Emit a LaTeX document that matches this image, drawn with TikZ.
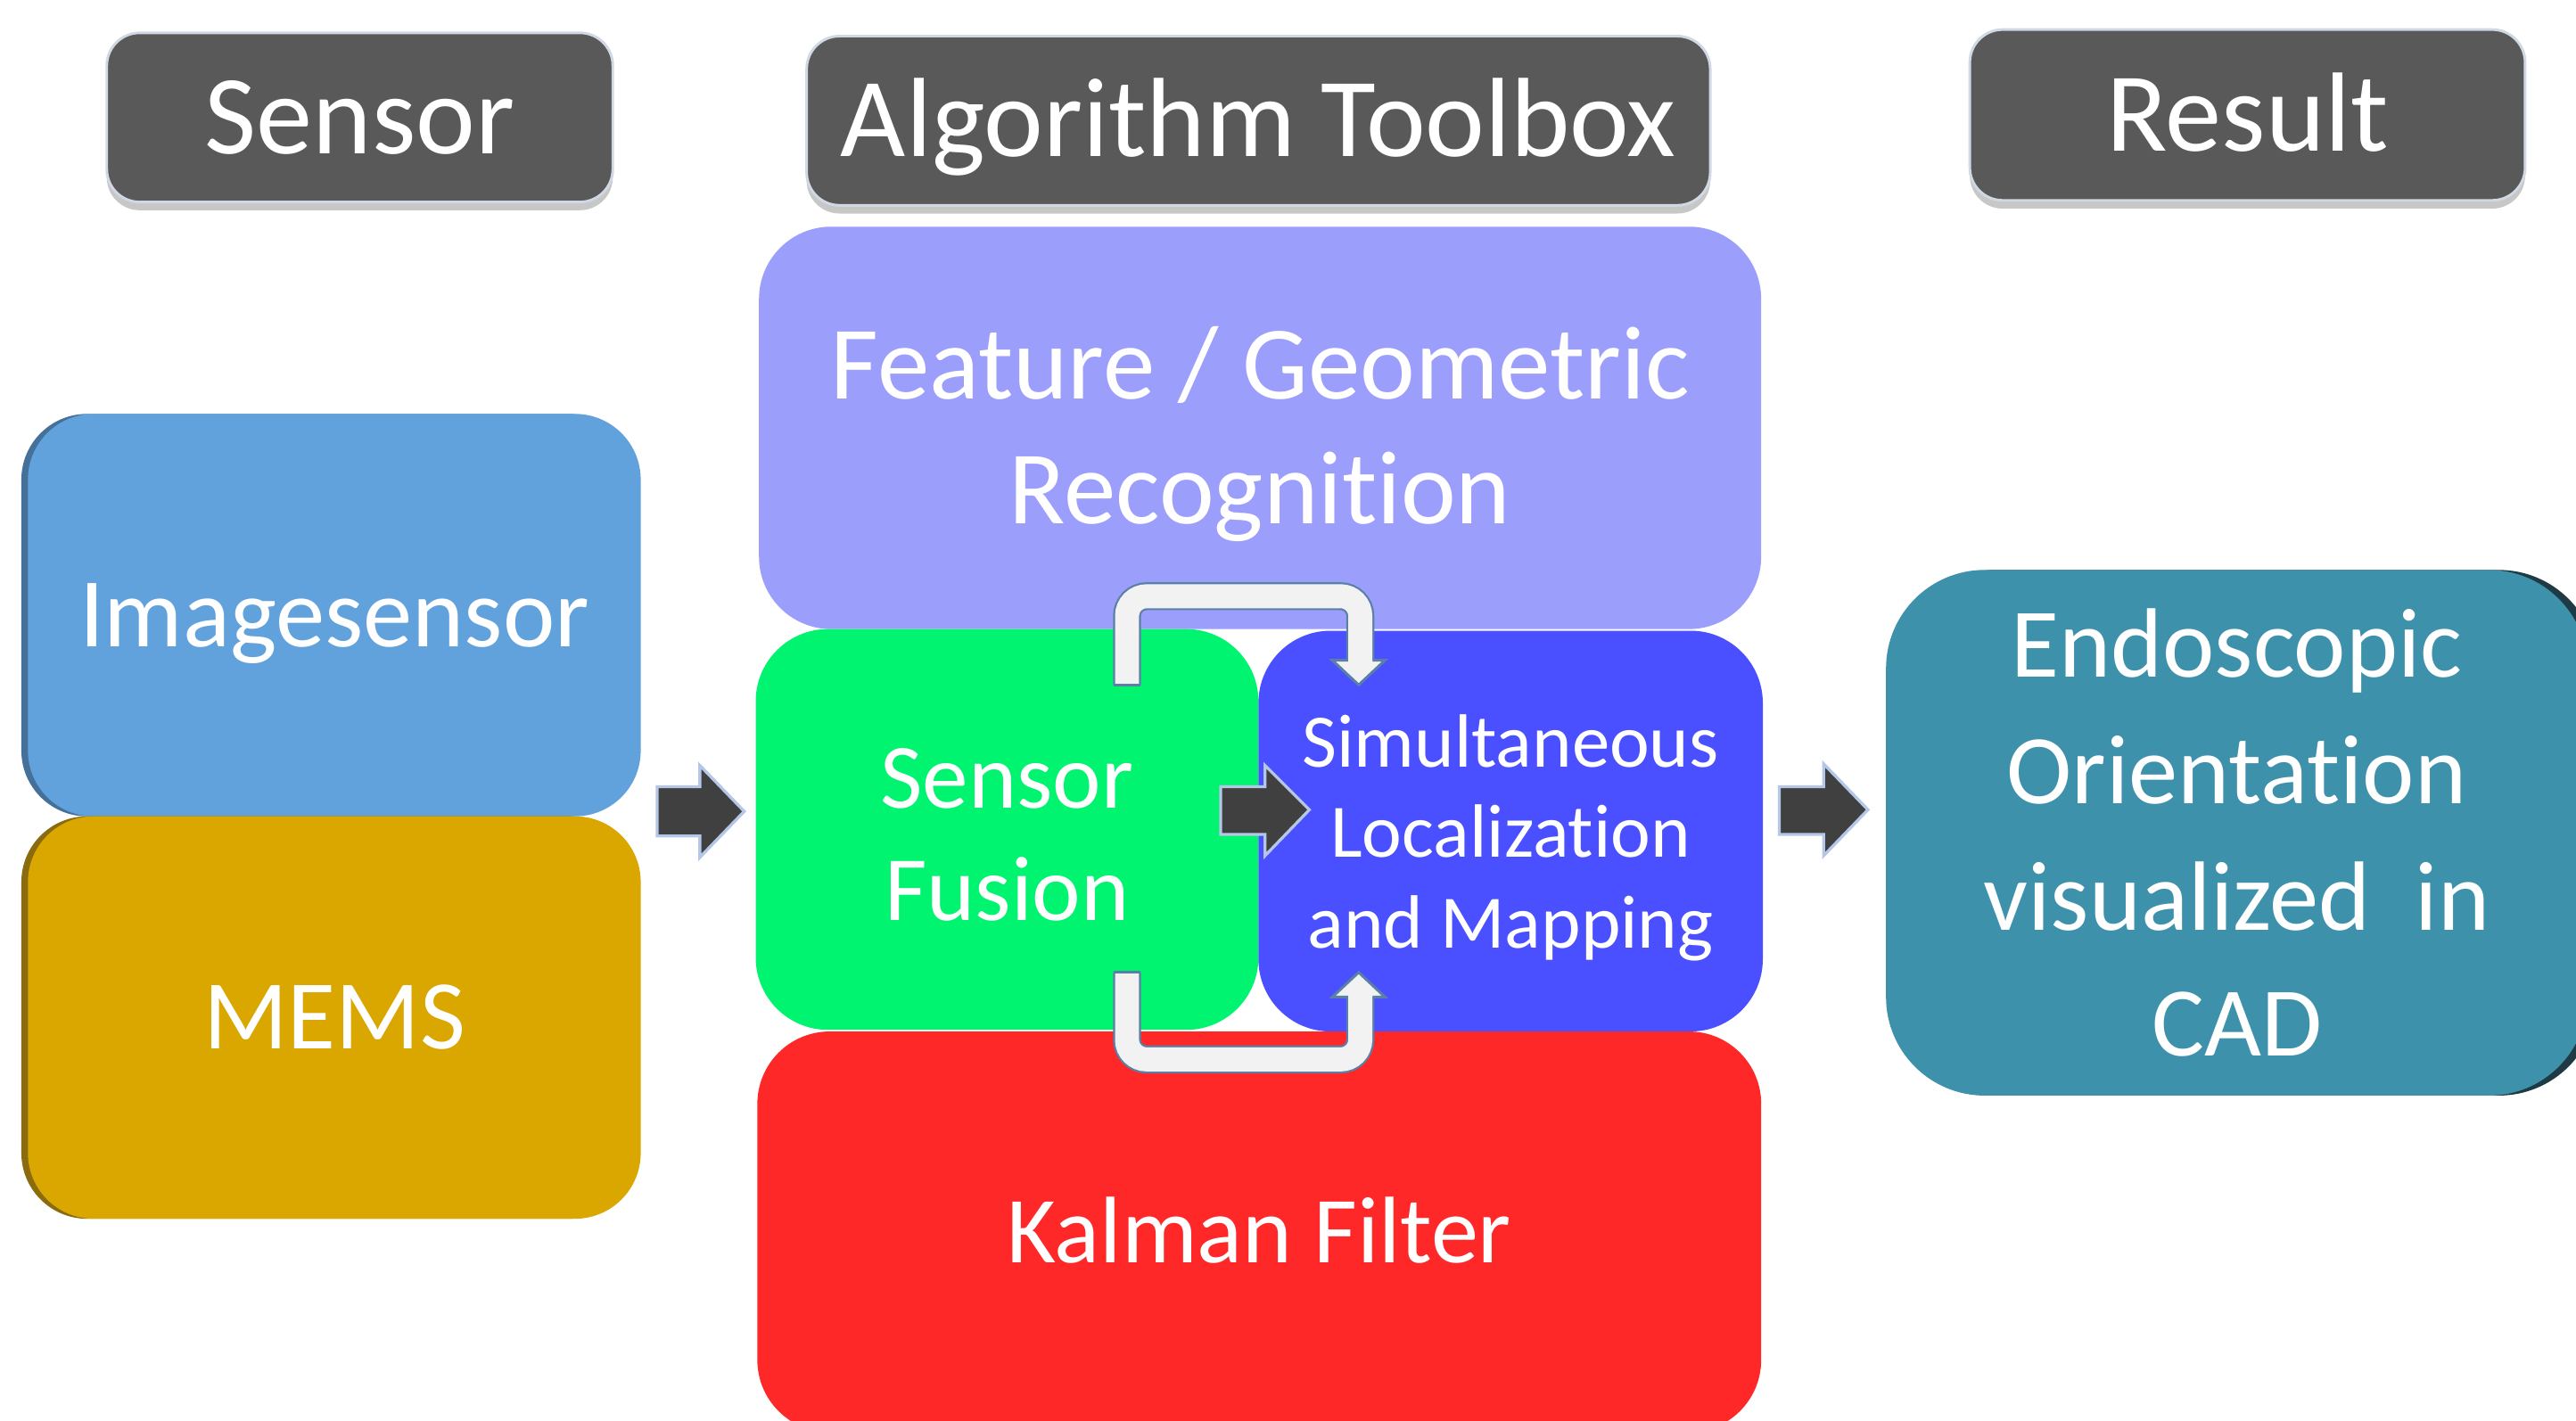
\documentclass[tikz,border=0pt]{standalone}
\usepackage{fontspec}
\setmainfont{Carlito}[Ligatures={NoCommon,NoContextual}]
\usetikzlibrary{shadows}
\definecolor{hdr}{HTML}{595959}
\definecolor{hdrline}{HTML}{D0D8E4}
\definecolor{lav}{HTML}{9B9EFB}
\definecolor{grn}{HTML}{00F470}
\definecolor{blu}{HTML}{4A50FF}
\definecolor{redc}{HTML}{FF2828}
\definecolor{imgc}{HTML}{62A2DC}
\definecolor{imgdark}{HTML}{44709A}
\definecolor{memsc}{HTML}{DAA600}
\definecolor{memsdark}{HTML}{8A6B0E}
\definecolor{endoc}{HTML}{3E91AB}
\definecolor{endodark}{HTML}{1E3A45}
\definecolor{arrowfill}{HTML}{404040}
\definecolor{arrowline}{HTML}{B4C7E7}
\definecolor{loopfill}{HTML}{F2F2F2}
\definecolor{loopline}{HTML}{5B80A8}
\begin{document}
\begin{tikzpicture}[x=0.5pt,y=-0.5pt,
  box/.style={rounded corners=22pt, inner sep=0pt, text=white, align=center},
  txt/.style={inner sep=0pt, text=white, align=center},
  hdrbox/.style={box, fill=hdr, draw=hdrline, line width=0.8pt, rounded corners=10pt,
     drop shadow={shadow xshift=0pt, shadow yshift=-2.5pt, opacity=0.22, fill=black},
     font=\fontsize{34.3}{40}\selectfont, text height=22pt, text depth=0pt},
  blockarrow/.style={fill=arrowfill, draw=arrowline, line width=0.9pt, line join=miter},
  loopout/.style={draw=loopline, line width=8.5pt, rounded corners=6pt},
  loopin/.style={draw=loopfill, line width=7.3pt, rounded corners=6pt},
]
\useasboundingbox (0,0) rectangle (1568,865);
\clip (0,0) rectangle (1568,865);

% algorithm toolbox boxes
\node[box, fill=lav, minimum width=305pt, minimum height=122.5pt] (feat) at (767,260.5) {};
\node[txt, font=\fontsize{31.75}{38}\selectfont] (featT) at ([yshift=-2pt]feat.center) {Feature / Geometric\\Recognition};
\node[box, fill=grn, minimum width=153pt, minimum height=122pt] (fus) at (613,505) {};
\node[txt, font=\fontsize{28}{34}\selectfont] (fusT) at ([yshift=-1.6pt]fus.center) {Sensor\\Fusion};
\node[box, fill=blu, minimum width=153.5pt, minimum height=122pt] (slam) at (919.5,506) {};
\node[txt, font=\fontsize{23}{27.5}\selectfont] (slamT) at ([yshift=-2pt]slam.center) {Simultaneous\\Localization\\and Mapping};
\node[box, fill=redc, minimum width=305.5pt, minimum height=122pt,
      font=\fontsize{28.8}{34}\selectfont, text height=18.6pt, text depth=0pt] (kal) at (766.5,750) {Kalman Filter};

% sensor boxes
\fill[imgdark, rounded corners=20pt] (13,252) rectangle (386,497);
\node[box, fill=imgc, rounded corners=20pt, minimum width=186.5pt, minimum height=122.5pt,
      font=\fontsize{30}{36}\selectfont, text height=19.3pt, text depth=0pt] (img) at (203.5,374.5) {Imagesensor};
\fill[memsdark, rounded corners=20pt] (13,497) rectangle (386,742);
\node[box, fill=memsc, rounded corners=20pt, minimum width=186.5pt, minimum height=122.5pt,
      font=\fontsize{30}{36}\selectfont, text height=19.3pt, text depth=0pt] (mems) at (203.5,619.5) {MEMS};

% result box
\fill[endodark, rounded corners=30pt] (1154,347) rectangle (1581,667);
\node[box, fill=endoc, rounded corners=30pt, minimum width=213.5pt, minimum height=160pt,
      font=\fontsize{30}{38.5}\selectfont] (endo) at (1361.5,507) {Endoscopic\\Orientation\\visualized\ \ in\\CAD};

% block arrows
\draw[blockarrow] (400,479) -- (426,479) -- (426,466) -- (453,494) -- (426,522) -- (426,509) -- (400,509) -- cycle;
\draw[blockarrow] (743,479) -- (770,479) -- (770,466) -- (797,493) -- (770,521) -- (770,508) -- (743,508) -- cycle;
\draw[blockarrow] (1083,479) -- (1110,479) -- (1110,465) -- (1137,493) -- (1110,521) -- (1110,508) -- (1083,508) -- cycle;

% loop arrows
\draw[loopout] (686,417) -- (686,363) -- (828,363) -- (828,403);
\draw[loopin] (686,416.3) -- (686,363) -- (828,363) -- (828,404);
\draw[loopline, line width=0.8pt] (678,417) -- (694,417);
\fill[loopfill] (811,402) -- (843,402) -- (827,417) -- cycle;
\draw[loopline, line width=0.8pt, line join=miter] (820.5,402) -- (811,402) -- (827,417) -- (843,402) -- (835.5,402);

\draw[loopout] (686,592) -- (686,645) -- (828,645) -- (828,606);
\draw[loopin] (686,592.7) -- (686,645) -- (828,645) -- (828,605);
\draw[loopline, line width=0.8pt] (678,592) -- (694,592);
\fill[loopfill] (811,607) -- (843,607) -- (827,592) -- cycle;
\draw[loopline, line width=0.8pt, line join=miter] (820.5,607) -- (811,607) -- (827,592) -- (843,607) -- (835.5,607);

% headers
\node[hdrbox, minimum width=154pt, minimum height=51.5pt] (hsen) at (219,71.5) {Sensor};
\node[hdrbox, minimum width=275pt, minimum height=51.5pt] (halg) at (766,73.5) {Algorithm Toolbox};
\node[hdrbox, minimum width=169pt, minimum height=52pt] (hres) at (1368,70) {Result};
\end{tikzpicture}
\end{document}
